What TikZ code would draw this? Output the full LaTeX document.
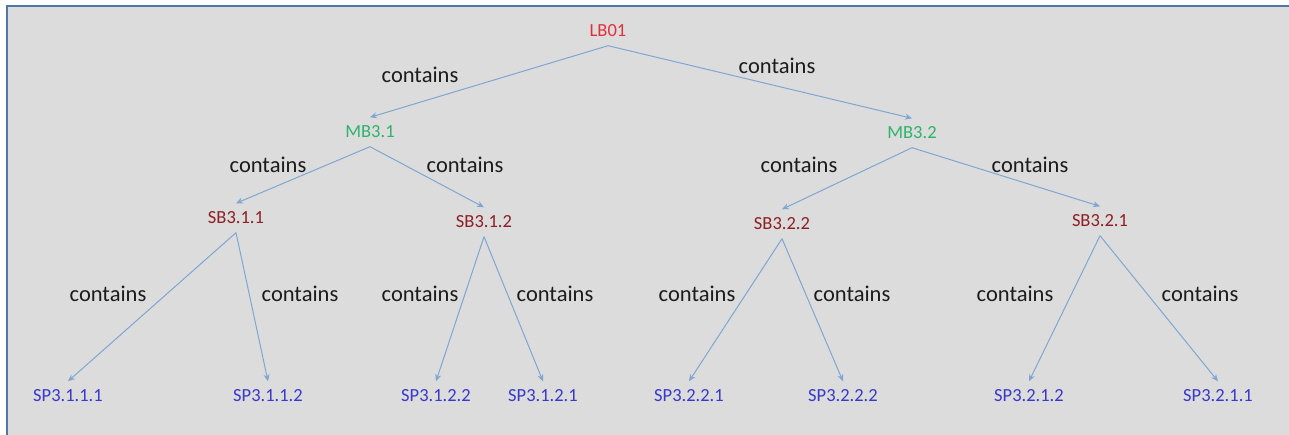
\documentclass[tikz,border=0pt]{standalone}
\usepackage{fontspec}
\setmainfont{Carlito}
\usetikzlibrary{arrows.meta}
\definecolor{bggray}{HTML}{DCDCDC}
\definecolor{frameblue}{HTML}{4F78A8}
\definecolor{linkblue}{HTML}{7FA6D2}
\definecolor{lbred}{HTML}{E0303C}
\definecolor{mbgreen}{HTML}{2EB36A}
\definecolor{sbred}{HTML}{8E1F24}
\definecolor{spblue}{HTML}{3838CC}
\definecolor{labblack}{HTML}{1C1C1C}
\tikzset{
  treenode/.style={inner sep=0pt, minimum height=29pt, font=\fontsize{18.5}{22}\selectfont},
  lbnode/.style={treenode, text=lbred},
  mbnode/.style={treenode, text=mbgreen},
  sbnode/.style={treenode, text=sbred},
  spnode/.style={treenode, text=spblue},
  edgelabel/.style={inner sep=0pt, text=labblack, font=\fontsize{22.5}{26}\selectfont},
  link/.style={draw=linkblue, line width=1pt, -{Stealth[length=7pt,width=6pt]}}
}
\begin{document}
\begin{tikzpicture}[x=1pt,y=-1pt]
\useasboundingbox (0,0) rectangle (1289,435);
\fill[white] (0,0) rectangle (1289,435);
\fill[bggray] (7,6) rectangle (1289,435);
\draw[frameblue, line width=2pt] (7,435) -- (7,6) -- (1289,6);

% nodes
\node[lbnode] (lb) at (608,31) {LB01};
\node[mbnode] (m1) at (370,132) {MB3.1};
\node[mbnode] (m2) at (912,133) {MB3.2};
\node[sbnode] (s11) at (236,218) {SB3.1.1};
\node[sbnode] (s12) at (484,222) {SB3.1.2};
\node[sbnode] (s22) at (782,224) {SB3.2.2};
\node[sbnode] (s21) at (1100,221) {SB3.2.1};
\node[spnode] (p1111) at (68,396) {SP3.1.1.1};
\node[spnode] (p1112) at (268,396) {SP3.1.1.2};
\node[spnode] (p1122) at (436,396) {SP3.1.2.2};
\node[spnode] (p1121) at (543,396) {SP3.1.2.1};
\node[spnode] (p2221) at (689,396) {SP3.2.2.1};
\node[spnode] (p2222) at (843,396) {SP3.2.2.2};
\node[spnode] (p2212) at (1029,396) {SP3.2.1.2};
\node[spnode] (p2211) at (1218,396) {SP3.2.1.1};

% connectors
\draw[link] (lb.south) -- (m1.north);
\draw[link] (lb.south) -- (m2.north);
\draw[link] (m1.south) -- (s11.north);
\draw[link] (m1.south) -- (s12.north);
\draw[link] (m2.south) -- (s22.north);
\draw[link] (m2.south) -- (s21.north);
\draw[link] (s11.south) -- (p1111.north);
\draw[link] (s11.south) -- (p1112.north);
\draw[link] (s12.south) -- (p1122.north);
\draw[link] (s12.south) -- (p1121.north);
\draw[link] (s22.south) -- (p2221.north);
\draw[link] (s22.south) -- (p2222.north);
\draw[link] (s21.south) -- (p2212.north);
\draw[link] (s21.south) -- (p2211.north);

% labels
\node[edgelabel] (c1) at (420,75) {contains};
\node[edgelabel] (c2) at (777,66) {contains};
\node[edgelabel] (c3) at (268,165) {contains};
\node[edgelabel] (c4) at (465,165) {contains};
\node[edgelabel] (c5) at (799,165) {contains};
\node[edgelabel] (c6) at (1030,165) {contains};
\node[edgelabel] (c7) at (108,294) {contains};
\node[edgelabel] (c8) at (300,294) {contains};
\node[edgelabel] (c9) at (420,294) {contains};
\node[edgelabel] (c10) at (555,294) {contains};
\node[edgelabel] (c11) at (697,294) {contains};
\node[edgelabel] (c12) at (852,294) {contains};
\node[edgelabel] (c13) at (1015,294) {contains};
\node[edgelabel] (c14) at (1200,294) {contains};
\end{tikzpicture}
\end{document}
